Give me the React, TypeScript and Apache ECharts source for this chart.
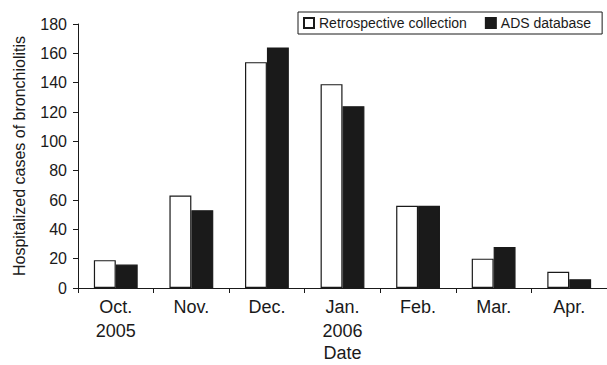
import React, { useEffect, useRef } from "react";
import * as echarts from "echarts";

const categories = ["Oct.\n2005", "Nov.", "Dec.", "Jan.\n2006", "Feb.", "Mar.", "Apr."];
const retrospective = [19, 63, 154, 139, 56, 20, 11];
const adsDatabase = [16, 53, 164, 124, 56, 28, 6];
const yTicks = { min: 0, max: 180, interval: 20 };

const FONT = "Liberation Sans";
const INK = "#1a1a1a";

export default function App() {
  const ref = useRef<HTMLDivElement>(null);
  useEffect(() => {
    if (!ref.current) return;
    const chart = echarts.init(ref.current, undefined, { renderer: "svg" });
    chart.setOption({
      animation: false,
      backgroundColor: "#fff",
      textStyle: { fontFamily: FONT, color: INK },
      grid: { left: 78, right: 0, top: 24, bottom: 77, containLabel: false, outerBoundsMode: "none" },
      legend: {
        left: 298,
        top: 12,
        padding: [4, 11, 4, 5],
        borderColor: INK,
        borderWidth: 1,
        icon: "rect",
        itemWidth: 10,
        itemHeight: 10,
        itemGap: 18,
        textStyle: { fontFamily: FONT, fontSize: 14, color: INK },
        data: ["Retrospective collection", "ADS database"],
      },
      xAxis: {
        type: "category",
        data: categories,
        name: "Date",
        nameLocation: "middle",
        nameGap: 65,
        nameMoveOverlap: false,
        nameTextStyle: { fontFamily: FONT, fontSize: 18, color: INK, verticalAlign: "middle", lineHeight: 18 },
        axisLine: { lineStyle: { color: INK, width: 1 } },
        axisTick: { show: true, length: 5, inside: false, alignWithLabel: false, lineStyle: { color: INK } },
        axisLabel: { fontFamily: FONT, fontSize: 18, color: INK, margin: 7, lineHeight: 24, verticalAlign: "top" },
        splitLine: { show: false },
      },
      yAxis: {
        type: "value",
        min: yTicks.min,
        max: yTicks.max,
        interval: yTicks.interval,
        name: "Hospitalized cases of bronchiolitis",
        nameLocation: "middle",
        nameGap: 51,
        nameTextStyle: { fontFamily: FONT, fontSize: 16, color: INK },
        axisLine: { show: true, lineStyle: { color: INK, width: 1 } },
        axisTick: { show: true, length: 5, lineStyle: { color: INK } },
        axisLabel: { fontFamily: FONT, fontSize: 16, color: INK, margin: 11 },
        splitLine: { show: false },
      },
      series: [
        {
          name: "Retrospective collection",
          type: "bar",
          data: retrospective,
          barGap: "0%",
          barCategoryGap: "42%",
          itemStyle: { color: "#fff", borderColor: INK, borderWidth: 1.2 },
        },
        {
          name: "ADS database",
          type: "bar",
          data: adsDatabase,
          barGap: "0%",
          barCategoryGap: "42%",
          itemStyle: { color: INK, borderColor: INK, borderWidth: 1.2 },
        },
      ],
    });
    return () => chart.dispose();
  }, []);
  return (
    <div
      ref={ref}
      style={{ position: "absolute", left: 0, top: 0, width: 607, height: 365 }}
    />
  );
}
